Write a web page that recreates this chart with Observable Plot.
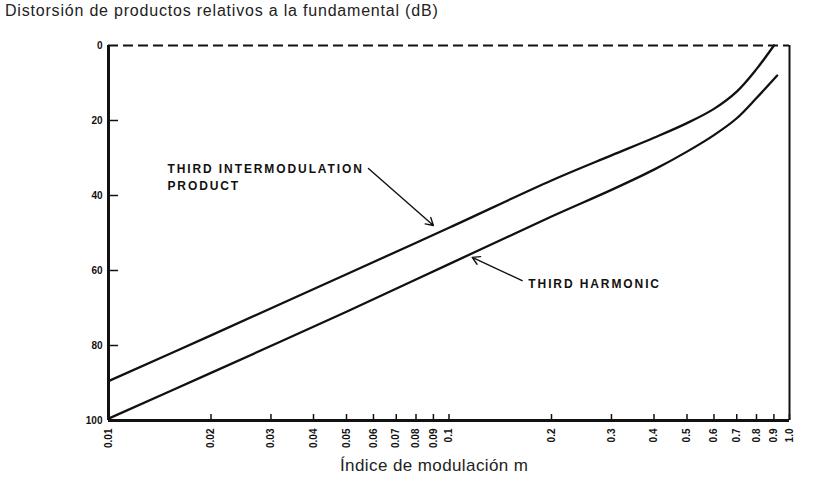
<!DOCTYPE html>
<html><head><meta charset="utf-8">
<script src="https://cdn.jsdelivr.net/npm/d3@7"></script>
<script src="https://cdn.jsdelivr.net/npm/@observablehq/plot@0.6"></script>
<style>
body{margin:0;background:#fff;font-family:"Liberation Sans",Arial,sans-serif;width:813px;height:495px;overflow:hidden;position:relative;}
#title{position:absolute;left:5px;top:2px;font-size:16px;letter-spacing:0.8px;color:#222;white-space:nowrap;}
#xlabel{position:absolute;left:340px;top:456px;font-size:17px;letter-spacing:0.4px;color:#222;white-space:nowrap;}
#chart{position:absolute;left:0;top:30px;}
</style></head><body>
<div id="title">Distorsión de productos relativos a la fundamental (dB)</div>
<div id="chart"></div>
<div id="xlabel">Índice de modulación m</div>
<script>
// Third intermodulation product
const imM  = [0.01, 0.02, 0.05, 0.1, 0.2, 0.3, 0.4, 0.5, 0.6, 0.7, 0.8, 0.9];
const imDb = [89.5, 77.3, 61, 48.6, 36, 29.3, 24.6, 20.7, 16.9, 12.3, 6.3, 0];
// Third harmonic
const hM  = [0.01, 0.02, 0.05, 0.1, 0.2, 0.3, 0.4, 0.5, 0.6, 0.7, 0.8, 0.92];
const hDb = [99.5, 87.3, 71, 58.3, 45.6, 38.5, 33.1, 28.3, 23.9, 19.4, 14, 8];
// Axis ticks
const xTickValues = [0.01,0.02,0.03,0.04,0.05,0.06,0.07,0.08,0.09,0.1,0.2,0.3,0.4,0.5,0.6,0.7,0.8,0.9,1.0];
const xTickLabels = ["0.01","0.02","0.03","0.04","0.05","0.06","0.07","0.08","0.09","0.1","0.2","0.3","0.4","0.5","0.6","0.7","0.8","0.9","1.0"];
const yTickValues = [0,20,40,60,80,100];
// Annotations
const annotText = ["THIRD INTERMODULATION\nPRODUCT", "THIRD HARMONIC"];
const annotM = [0.0149, 0.171];
const annotDb = [34.8, 63.2];
const arrowM1 = [0.058, 0.164], arrowDb1 = [32.8, 62.7];
const arrowM2 = [0.090, 0.117], arrowDb2 = [48, 56.5];

const im = imM.map((m,i)=>({m, db: imDb[i]}));
const h = hM.map((m,i)=>({m, db: hDb[i]}));
const xTicks = xTickValues.map((v,i)=>({v, label: xTickLabels[i]}));
const annots = annotText.map((t,i)=>({t, m: annotM[i], db: annotDb[i]}));
const arrows = arrowM1.map((m,i)=>({x1:m, y1:arrowDb1[i], x2:arrowM2[i], y2:arrowDb2[i]}));
const ink = "#111";

const chart = Plot.plot({
  width: 813, height: 465,
  marginLeft: 108, marginRight: 24, marginTop: 15, marginBottom: 75,
  x: {type: "log", domain: [0.01, 1], axis: null},
  y: {domain: [0, 100], reverse: true},
  style: {background: "transparent", fontFamily: "Liberation Sans, Arial, sans-serif", color: ink},
  marks: [
    Plot.text(xTicks, {x: "v", y: 100, dy: 8, text: "label", rotate: -90, textAnchor: "end", lineAnchor: "middle", fontSize: 10, fontWeight: "bold", fill: ink}),
    Plot.axisY({ticks: yTickValues, tickSize: 0, tickPadding: 6, fontSize: 10, fontWeight: "bold", label: null}),
    Plot.ruleX(xTicks, {x: "v", y1: 100, y2: 98.4, stroke: ink, strokeWidth: 1.5}),
    Plot.ruleY([20,40,60,80], {y: d => d, x1: 0.01, x2: 0.0107, stroke: ink, strokeWidth: 1.5}),
    Plot.ruleY([0], {stroke: ink, strokeWidth: 2, strokeDasharray: "10,5"}),
    Plot.ruleY([100], {stroke: ink, strokeWidth: 3}),
    Plot.ruleX([0.01], {stroke: ink, strokeWidth: 3}),
    Plot.ruleX([1], {stroke: ink, strokeWidth: 2}),
    Plot.line(im, {x: "m", y: "db", curve: "catmull-rom", stroke: ink, strokeWidth: 2.3}),
    Plot.line(h, {x: "m", y: "db", curve: "catmull-rom", stroke: ink, strokeWidth: 2.3}),
    Plot.arrow(arrows, {x1: "x1", y1: "y1", x2: "x2", y2: "y2", stroke: ink, strokeWidth: 1.4, headLength: 9}),
    Plot.text(annots, {x: "m", y: "db", text: "t", textAnchor: "start", fontSize: 12, fontWeight: "bold", lineHeight: 1.4, fill: ink})
  ]
});
// widen the letter spacing of the annotation labels
d3.select(chart).selectAll("text").filter(function() {
  return /THIRD|PRODUCT/.test(this.textContent);
}).style("letter-spacing", "1.9px");
document.getElementById("chart").appendChild(chart);
</script>
</body></html>
